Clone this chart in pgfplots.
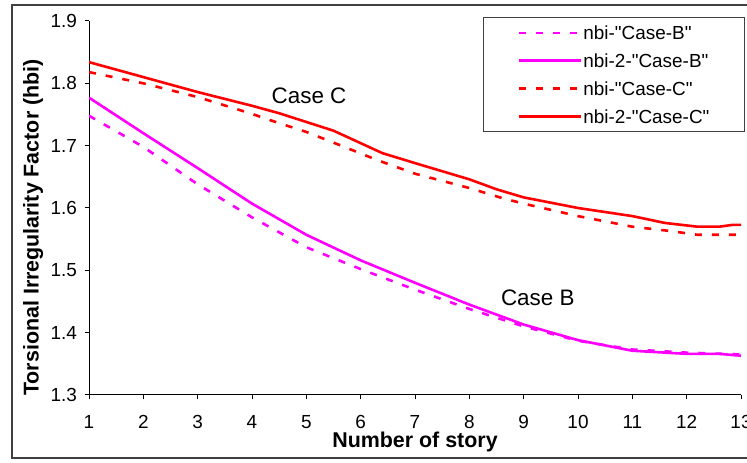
\documentclass[border=0pt]{standalone}
\usepackage{fontspec}
\setmainfont{Liberation Sans}[Ligatures=TeXOff]
\usepackage{pgfplots}
\pgfplotsset{compat=1.18}
\definecolor{caseB}{RGB}{255,0,255}
\definecolor{caseC}{RGB}{255,0,0}
\definecolor{framegray}{RGB}{64,64,64}

\begin{document}
\begin{tikzpicture}[x=1bp,y=1bp]
\path[use as bounding box] (0,0) rectangle (747,463);
\clip (0,0) rectangle (747,463);
% outer chart frame (cut off on the right like the original)
\draw[framegray, line width=2bp] (12,5) rectangle (780,458);
\begin{axis}[
    at={(89bp,68bp)}, anchor=south west,
    scale only axis, width=652bp, height=374bp,
    xmin=1, xmax=13, ymin=1.3, ymax=1.9,
    axis lines=left,
    axis line style={black, line width=1bp, -},
    xtick={1,2,3,4,5,6,7,8,9,10,11,12,13},
    ytick={1.3,1.4,1.5,1.6,1.7,1.8,1.9},
    tick align=outside,
    major tick length=4.5bp,
    tick style={black, line width=1bp},
    ticklabel style={font=\fontsize{19}{22}\selectfont},
    /pgf/number format/assume math mode=true,
    xticklabel style={yshift=-12bp},
    yticklabel style={xshift=-4bp, /pgf/number format/.cd, fixed, fixed zerofill, precision=1},
    legend style={at={(rel axis cs:0.604,1.011)}, anchor=north west,
        draw=framegray, line width=1bp, fill=white,
        inner xsep=34bp, inner ysep=7bp, row sep=11bp,
        font=\fontsize{19}{22}\selectfont,
        nodes={inner sep=1.5bp, text height=13.9bp, text depth=0bp}},
    legend cell align=left,
    legend image code/.code={\draw[#1] (0bp,0bp) -- (62bp,0bp);},
]
\addplot[caseB, line width=2.6bp, dash pattern=on 7bp off 10bp] coordinates {
    (1,1.748) (2,1.698) (3,1.638) (4,1.585) (5,1.537) (6,1.502) (7,1.469)
    (8,1.438) (9,1.410) (10,1.387) (11,1.373) (12,1.368) (13,1.365)};
\addlegendentry{nbi-"Case-B"}
\addplot[caseB, line width=2.6bp] coordinates {
    (1,1.777) (2,1.720) (3,1.664) (4,1.607) (5,1.557) (6,1.516) (7,1.480)
    (8,1.445) (9,1.413) (10,1.388) (11,1.371) (12,1.366) (12.6,1.366) (13,1.363)};
\addlegendentry{nbi-2-"Case-B"}
\addplot[caseC, line width=2.6bp, dash pattern=on 7bp off 10bp] coordinates {
    (1,1.818) (2,1.800) (3,1.778) (4,1.751) (4.33,1.741) (5,1.722) (5.7,1.698)
    (6.3,1.677) (7,1.655) (8,1.632) (8.6,1.616) (9,1.607) (10,1.587) (11,1.570)
    (11.7,1.563) (12.2,1.557) (13,1.557)};
\addlegendentry{nbi-"Case-C"}
\addplot[caseC, line width=2.6bp] coordinates {
    (1,1.834) (2,1.810) (3,1.786) (4,1.764) (4.5,1.752) (5.5,1.724) (6.4,1.688)
    (7,1.672) (7.5,1.659) (8,1.646) (8.5,1.630) (9,1.617) (10,1.600) (11,1.587)
    (11.6,1.576) (12.2,1.570) (12.6,1.570) (12.85,1.573) (13,1.573)};
\addlegendentry{nbi-2-"Case-C"}
\node[font=\fontsize{22.5}{26}\selectfont] at (axis cs:5.05,1.780) {Case C};
\node[font=\fontsize{22.5}{26}\selectfont] at (axis cs:9.26,1.456) {Case B};
\end{axis}
\node[rotate=90, anchor=base, font=\bfseries\fontsize{21.5}{25}\selectfont]
    at (38.5,235.5) {Torsional Irregularity Factor (hbi)};
\node[anchor=base, font=\bfseries\fontsize{21.5}{25}\selectfont]
    at (415,15) {Number of story};
\end{tikzpicture}
\end{document}
